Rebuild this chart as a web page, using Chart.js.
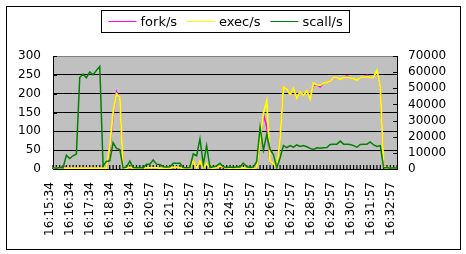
<!DOCTYPE html>
<html><head><meta charset="utf-8">
<script src="https://cdn.jsdelivr.net/npm/chart.js@4"></script>
<style>html,body{margin:0;padding:0;background:#fff;overflow:hidden}#wrap{width:466px;height:254px}</style>
</head><body><div id="wrap"><canvas id="c" width="466" height="254"></canvas></div>
<script>
const tickLabels = ['16:15:34','16:16:34','16:17:34','16:18:34','16:19:34','16:20:57','16:21:57','16:22:57','16:23:57','16:24:57','16:25:57','16:26:57','16:27:57','16:28:57','16:29:57','16:30:57','16:31:57','16:32:57'];
const labelEvery = 6;
const seriesNames = ['fork/s','exec/s','scall/s'];
const forkValues = [
 2,2,2,8,2,2,2,2,2,2, 2,2,2,2,2,2,2,50,140,205,
 188,3,2,4,2,2,2,2,3,3, 3,3,2,2,2,2,4,5,3,2,
 2,2,22,1,22,1,15,1,2,3, 6,5,2,2,2,2,2,3,2,2,
 2,3,70,146,112,18,15,2,80,218, 212,198,215,188,205,195,208,190,222,224,
 218,228,230,233,243,243,238,243,247,242, 240,236,242,243,249,243,244,258,218,8,
 2,1,1,1];
const execValues = [
 2,2,2,2,2,2,2,2,2,2, 2,2,2,2,2,2,2,60,150,200,
 190,3,2,4,2,2,2,2,3,3, 3,3,2,2,2,2,4,5,3,2,
 2,2,22,1,22,1,15,1,2,3, 8,5,2,2,2,2,2,3,2,2,
 2,3,75,148,181,20,15,2,80,218, 212,198,215,188,205,195,208,186,228,224,
 222,228,230,233,243,243,238,243,244,242, 240,236,242,243,246,243,244,262,218,8,
 2,1,1,1];
const scallValues = [
 700,500,900,700,8600,6500,8200,9300,56700,58800, 56500,60200,58300,61100,63500,1900,4700,5100,16300,12800,
 12100,700,1200,4900,900,700,900,700,3000,3000, 5600,3000,2800,1400,1200,1400,3500,3500,3500,900,
 700,900,9300,8200,18700,2800,14500,900,1400,1900, 3500,1400,900,1200,900,1400,1200,3700,1400,900,
 1200,4700,25700,11700,21500,12100,8900,700,7000,14500, 13300,14500,13500,14900,14000,14500,13800,12800,12100,13100,
 12800,13100,13300,15200,15400,15400,17300,15400,15400,15200, 14500,13500,15200,15400,15400,16800,14900,14000,14500,900,
 700,500,700,500];
const leftTicks = {min:0, max:300, step:50};
const rightTicks = {min:0, max:70000, step:10000};

const categories = execValues.map((_, i) => i % labelEvery === 0 ? (tickLabels[i / labelEvery] || '') : '');

Chart.defaults.font.family = "'DejaVu Sans', sans-serif";
Chart.defaults.font.size = 12;
Chart.defaults.color = '#000';

const AREA = {left:53, right:397, top:56, bottom:169};

const decor = {
  id: 'decor',
  beforeDraw(chart) {
    const {ctx, chartArea: a} = chart;
    ctx.save();
    ctx.fillStyle = '#fff';
    ctx.fillRect(0, 0, chart.width, chart.height);
    ctx.fillStyle = '#c0c0c0';
    ctx.fillRect(a.left, a.top, a.right - a.left, a.bottom - a.top);
    ctx.restore();
  },
  beforeDatasetsDraw(chart) {
    const {ctx, chartArea: a, scales} = chart;
    ctx.save();
    ctx.strokeStyle = '#000';
    ctx.lineWidth = 1.2;
    ctx.beginPath();
    const xs = scales.x;
    for (let i = 0; i < categories.length; i++) {
      const px = xs.getPixelForValue(i);
      ctx.moveTo(px, a.bottom);
      ctx.lineTo(px, a.bottom - 4);
    }
    ctx.stroke();
    ctx.lineWidth = 1;
    ctx.beginPath();
    for (let v = rightTicks.min; v <= rightTicks.max; v += rightTicks.step) {
      const py = Math.round(scales.y2.getPixelForValue(v)) + 0.5;
      ctx.moveTo(a.right, py);
      ctx.lineTo(a.right - 4, py);
    }
    for (let v = leftTicks.min; v <= leftTicks.max; v += leftTicks.step) {
      const py = Math.round(scales.y.getPixelForValue(v)) + 0.5;
      ctx.moveTo(a.left, py);
      ctx.lineTo(a.left + 4, py);
    }
    ctx.stroke();
    ctx.restore();
  },
  afterDraw(chart) {
    const {ctx, chartArea: a} = chart;
    ctx.save();
    ctx.strokeStyle = '#000';
    ctx.lineWidth = 1;
    ctx.strokeRect(6.5, 6.5, 454, 243);
    ctx.font = "13px 'DejaVu Sans'";
    const lineLen = 28, gapText = 4, gapItem = 10, pad = 7;
    const items = chart.data.datasets.map(d => ({label: d.label, color: d.borderColor, w: ctx.measureText(d.label).width}));
    let total = 0;
    items.forEach((it, k) => { total += lineLen + gapText + it.w + (k < items.length - 1 ? gapItem : 0); });
    const boxW = Math.round(total + pad * 2);
    const cx = (a.left + a.right) / 2;
    const bx = Math.round(cx - boxW / 2) + 0.5;
    const by = 10.5, bh = 22;
    ctx.fillStyle = '#fff';
    ctx.fillRect(bx, by, boxW, bh);
    ctx.strokeRect(bx, by, boxW, bh);
    let x = bx + pad;
    const ly = 21.5;
    items.forEach(it => {
      ctx.strokeStyle = it.color;
      ctx.lineWidth = 1;
      ctx.beginPath();
      ctx.moveTo(x, ly);
      ctx.lineTo(x + lineLen, ly);
      ctx.stroke();
      x += lineLen + gapText;
      ctx.fillStyle = '#000';
      ctx.textBaseline = 'middle';
      ctx.fillText(it.label, x, ly + 1);
      x += it.w + gapItem;
    });
    ctx.restore();
  }
};

new Chart(document.getElementById('c'), {
  type: 'line',
  data: {
    labels: categories,
    datasets: [
      {label: seriesNames[0], data: forkValues, borderColor: '#ff00ff', backgroundColor: '#ff00ff', borderWidth: 1.5, pointRadius: 0, yAxisID: 'y', order: 3},
      {label: seriesNames[1], data: execValues, borderColor: '#ffff00', backgroundColor: '#ffff00', borderWidth: 1.8, pointRadius: 0, yAxisID: 'y', order: 2},
      {label: seriesNames[2], data: scallValues, borderColor: '#008000', backgroundColor: '#008000', borderWidth: 1.5, pointRadius: 0, yAxisID: 'y2', order: 1}
    ]
  },
  options: {
    responsive: false,
    animation: false,
    devicePixelRatio: 1,
    events: [],
    layout: {padding: {left: 0, right: 0, top: AREA.top, bottom: 0}},
    plugins: {legend: {display: false}, tooltip: {enabled: false}},
    elements: {line: {tension: 0}},
    scales: {
      x: {
        type: 'category',
        offset: false,
        grid: {display: false, drawTicks: false},
        border: {display: true, color: '#000', width: 1},
        ticks: {autoSkip: false, minRotation: 90, maxRotation: 90, padding: 13, labelOffset: -3, font: {size: 12}},
        afterFit(s) { s.height = 254 - AREA.bottom; }
      },
      y: {
        position: 'left',
        min: leftTicks.min, max: leftTicks.max,
        grid: {display: true, drawTicks: false, color: c => c.tick && c.tick.value === leftTicks.max ? '#808080' : '#000', lineWidth: 1},
        border: {display: true, color: '#000', width: 1},
        ticks: {stepSize: leftTicks.step, autoSkip: false, padding: 12, callback: v => String(v)},
        afterFit(s) { s.width = AREA.left; }
      },
      y2: {
        position: 'right',
        min: rightTicks.min, max: rightTicks.max,
        grid: {display: false, drawTicks: false},
        border: {display: true, color: '#000', width: 1},
        ticks: {stepSize: rightTicks.step, autoSkip: false, padding: 11, callback: v => String(v)},
        afterFit(s) { s.width = 466 - AREA.right; }
      }
    }
  },
  plugins: [decor]
});
</script>
</body></html>
